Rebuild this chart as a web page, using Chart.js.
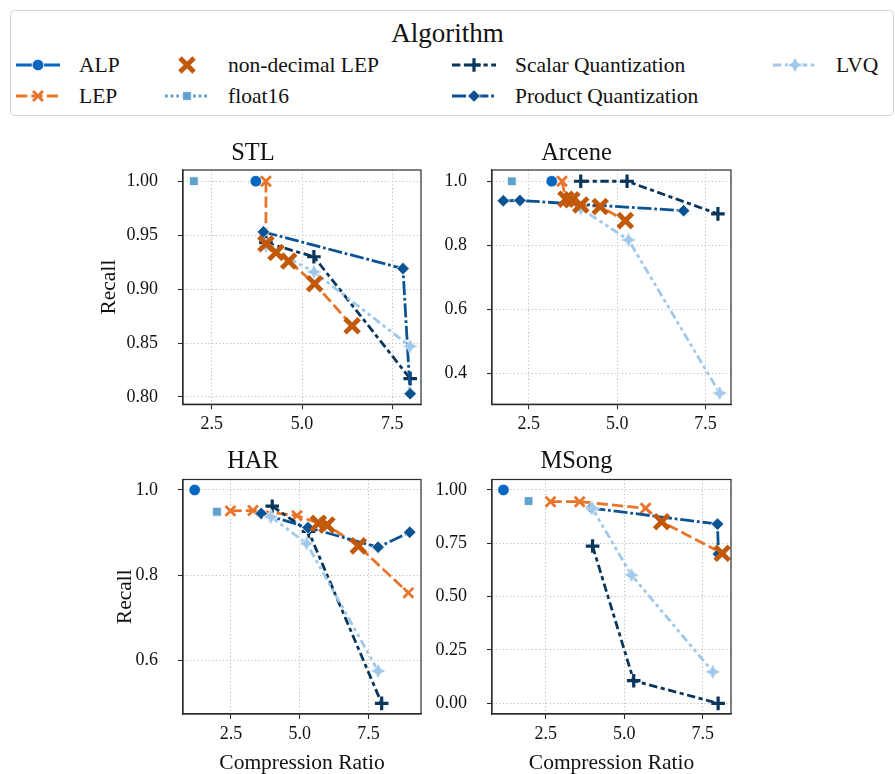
<!DOCTYPE html>
<html>
<head>
<meta charset="utf-8">
<script src="https://cdn.jsdelivr.net/npm/chart.js@4.4.0/dist/chart.umd.min.js"></script>
<style>
  body { margin: 0; background: #fff; width: 895px; height: 774px; overflow: hidden; position: relative;
         font-family: 'Liberation Serif', serif; color: #111; }
  canvas.panel { position: absolute; }
  #legend { position: absolute; left: 10px; top: 10px; width: 884px; height: 106px; box-sizing: border-box;
            border: 1px solid #d4d4d4; border-radius: 5px; }
  #legendTitle { position: absolute; left: 0; width: 895px; top: 17px; line-height: 32px; text-align: center; font-size: 27px; }
  .swatch { position: absolute; }
  .label { position: absolute; font-size: 21.5px; line-height: 26px; white-space: nowrap; }
</style>
</head>
<body>
<div id="legend"></div>
<div id="legendTitle">Algorithm</div>
<script>
const algorithms = ['ALP', 'LEP', 'non-decimal LEP', 'float16', 'Scalar Quantization', 'Product Quantization', 'LVQ'];

// [compression ratio, recall] per algorithm and dataset
const stlAlp = [[3.72, 1.0]];
const stlLep = [[4.0, 1.0], [4.0, 0.942], [4.28, 0.934], [4.63, 0.926], [5.35, 0.905], [6.39, 0.866]];
const stlNdLep = [[4.0, 0.942], [4.28, 0.934], [4.63, 0.926], [5.35, 0.905], [6.39, 0.866]];
const stlF16 = [[2.0, 1.0]];
const stlSq = [[4.0, 0.943], [5.33, 0.930], [8.0, 0.817]];
const stlPq = [[3.93, 0.953], [7.8, 0.919], [8.0, 0.803]];
const stlLvq = [[4.0, 0.940], [5.33, 0.916], [8.0, 0.847]];

const arcAlp = [[3.15, 1.0]];
const arcLep = [[3.44, 1.0], [3.55, 0.944], [3.72, 0.942], [3.97, 0.926], [4.52, 0.921], [5.23, 0.877]];
const arcNdLep = [[3.55, 0.944], [3.72, 0.942], [3.97, 0.926], [4.52, 0.921], [5.23, 0.877]];
const arcF16 = [[2.02, 1.0]];
const arcSq = [[3.97, 1.0], [5.28, 1.0], [7.85, 0.898]];
const arcPq = [[1.78, 0.939], [2.25, 0.940], [6.88, 0.908]];
const arcLvq = [[3.6, 0.940], [3.97, 0.915], [5.32, 0.817], [7.9, 0.338]];

const harAlp = [[1.18, 1.0]];
const harLep = [[2.48, 0.951], [3.3, 0.952], [4.9, 0.940], [5.68, 0.922], [5.99, 0.918], [7.13, 0.869], [8.95, 0.759]];
const harNdLep = [[5.68, 0.922], [5.99, 0.918], [7.13, 0.869]];
const harF16 = [[1.99, 0.949]];
const harSq = [[4.0, 0.962], [5.32, 0.903], [7.98, 0.500]];
const harPq = [[3.6, 0.945], [5.3, 0.912], [7.85, 0.866], [9.0, 0.901]];
const harLvq = [[3.95, 0.937], [5.25, 0.875], [7.85, 0.576]];

const msAlp = [[1.15, 1.0]];
const msLep = [[2.65, 0.945], [3.58, 0.945], [5.68, 0.914], [6.19, 0.851], [8.12, 0.703]];
const msNdLep = [[6.19, 0.851], [8.12, 0.703]];
const msF16 = [[1.95, 0.948]];
const msSq = [[3.99, 0.737], [5.3, 0.106], [7.99, 0.0]];
const msPq = [[3.95, 0.915], [7.97, 0.840], [8.0, 0.700]];
const msLvq = [[3.98, 0.914], [5.23, 0.601], [7.82, 0.148]];

const xTicks = [2.5, 5.0, 7.5];
const stlYTicks = [0.80, 0.85, 0.90, 0.95, 1.00];
const arcYTicks = [0.4, 0.6, 0.8, 1.0];
const harYTicks = [0.6, 0.8, 1.0];
const msYTicks = [0.00, 0.25, 0.50, 0.75, 1.00];

Chart.defaults.font.family = "'Liberation Serif', serif";
Chart.defaults.color = '#111';

// 4-point star used for LVQ
function starImage(r, color) {
  const c = document.createElement('canvas');
  const size = Math.ceil(2 * r + 2);
  c.width = c.height = size;
  const g = c.getContext('2d');
  const m = size / 2;
  g.beginPath();
  for (let i = 0; i < 8; i++) {
    const a = i * Math.PI / 4 - Math.PI / 2;
    const rr = i % 2 ? r * 0.45 : r;
    g.lineTo(m + rr * Math.cos(a), m + rr * Math.sin(a));
  }
  g.closePath();
  g.fillStyle = color;
  g.fill();
  g.strokeStyle = '#fff';
  g.lineWidth = 0.7;
  g.stroke();
  return c;
}

const lw = 2.8;
const styles = {
  'ALP': { color: '#0867c1', dash: [], point: 'circle', radius: 5.8, filled: true, order: 6 },
  'LEP': { color: '#e7762c', dash: [4 * lw, 1.5 * lw], point: 'crossRot', radius: 7, width: 2.8, order: 5 },
  'non-decimal LEP': { color: '#c2590a', line: false, point: 'crossRot', radius: 10, width: 4.8, order: 0 },
  'float16': { color: '#5fa1cd', dash: [lw, lw], point: 'rect', radius: 6.2, filled: true, order: 4 },
  'Scalar Quantization': { color: '#0a365c', dash: [3 * lw, 1.25 * lw, 1.5 * lw, 1.25 * lw], point: 'cross', radius: 6.8, width: 3.2, order: 3 },
  'Product Quantization': { color: '#0b5393', dash: [5 * lw, lw, lw, lw], point: 'rectRot', radius: 6.3, filled: true, order: 2 },
  'LVQ': { color: '#9fc8ea', dash: [3 * lw, 1.25 * lw, 1.25 * lw, 1.25 * lw, 1.25 * lw, 1.25 * lw], point: 'image', radius: 8, filled: true, order: 1 },
};
styles['LVQ'].image = starImage(styles['LVQ'].radius, styles['LVQ'].color);

const gridColor = '#bdbdbd';
const axisColor = '#2b2b2b';

// closes the box around the plot area
const framePlugin = {
  id: 'frame',
  afterDatasetsDraw(chart) {
    const a = chart.chartArea, ctx = chart.ctx;
    ctx.save();
    ctx.strokeStyle = axisColor;
    ctx.lineWidth = 1.2;
    ctx.setLineDash([]);
    ctx.strokeRect(a.left, a.top, a.right - a.left, a.bottom - a.top);
    ctx.restore();
  }
};

const panels = [
  { name: 'STL', series: [stlAlp, stlLep, stlNdLep, stlF16, stlSq, stlPq, stlLvq],
    xMin: 1.70, xMax: 8.30, yMin: 0.7933, yMax: 1.0104, yTicks: stlYTicks, yDec: 2,
    box: { left: 85, top: 130, width: 356, height: 305 }, plot: { left: 183, top: 170, right: 421, bottom: 405 },
    titleY: 153.3, recallX: 109, xTitle: false },
  { name: 'Arcene', series: [arcAlp, arcLep, arcNdLep, arcF16, arcSq, arcPq, arcLvq],
    xMin: 1.46, xMax: 8.22, yMin: 0.3035, yMax: 1.0352, yTicks: arcYTicks, yDec: 1,
    box: { left: 422, top: 130, width: 329, height: 305 }, plot: { left: 492, top: 170, right: 731, bottom: 405 },
    titleY: 153.3, recallX: null, xTitle: false },
  { name: 'HAR', series: [harAlp, harLep, harNdLep, harF16, harSq, harPq, harLvq],
    xMin: 0.755, xMax: 9.41, yMin: 0.475, yMax: 1.0246, yTicks: harYTicks, yDec: 1,
    box: { left: 85, top: 438, width: 356, height: 336 }, plot: { left: 183, top: 479.5, right: 421, bottom: 714 },
    titleY: 461.7, recallX: 125, xTitle: true },
  { name: 'MSong', series: [msAlp, msLep, msNdLep, msF16, msSq, msPq, msLvq],
    xMin: 0.785, xMax: 8.40, yMin: -0.050, yMax: 1.049, yTicks: msYTicks, yDec: 2,
    box: { left: 422, top: 438, width: 329, height: 336 }, plot: { left: 492, top: 479.5, right: 731, bottom: 714 },
    titleY: 461.7, recallX: null, xTitle: true },
];

function makeDataset(name, pts) {
  const s = styles[name];
  const filled = !!s.filled;
  return {
    label: name,
    data: pts.map(p => ({ x: p[0], y: p[1] })),
    showLine: s.line !== false,
    borderColor: s.color,
    borderWidth: lw,
    borderDash: s.dash || [],
    tension: 0,
    fill: false,
    pointStyle: s.point === 'image' ? s.image : s.point,
    pointRadius: s.radius,
    pointBackgroundColor: s.color,
    pointBorderColor: filled ? '#ffffff' : s.color,
    pointBorderWidth: filled ? 0.8 : s.width,
    order: s.order,
    clip: 12
  };
}

function makePanel(p) {
  const c = document.createElement('canvas');
  c.className = 'panel';
  c.width = p.box.width;
  c.height = p.box.height;
  c.style.left = p.box.left + 'px';
  c.style.top = p.box.top + 'px';
  document.body.appendChild(c);

  const titleLh = 24.5 * 1.2;
  const padTop = p.titleY - p.box.top - titleLh / 2;
  const padBottom = p.plot.top - p.box.top - padTop - titleLh;
  const labelLh = 21.5 * 1.2;

  new Chart(c, {
    type: 'line',
    data: { datasets: algorithms.map((a, i) => makeDataset(a, p.series[i])) },
    options: {
      responsive: false,
      animation: false,
      events: [],
      layout: { padding: { left: 0, top: 0, bottom: 0, right: p.box.left + p.box.width - p.plot.right } },
      plugins: {
        legend: { display: false },
        tooltip: { enabled: false },
        title: { display: true, text: p.name, color: '#111', font: { size: 24.5, lineHeight: 1.2, weight: 'normal' },
                 padding: { top: padTop, bottom: padBottom } }
      },
      scales: {
        x: {
          type: 'linear', min: p.xMin, max: p.xMax,
          afterBuildTicks: s => { s.ticks = xTicks.map(v => ({ value: v })); },
          afterFit: s => { s.height = p.box.top + p.box.height - p.plot.bottom; },
          ticks: { callback: v => v.toFixed(1), padding: 4.5, color: '#111', font: { size: 18 }, maxRotation: 0, autoSkip: false },
          grid: { color: gridColor, lineWidth: 1, tickColor: axisColor, tickLength: 5, tickWidth: 1.1 },
          border: { color: axisColor, width: 1.2, dash: [1.2, 2.4] },
          title: { display: p.xTitle, text: 'Compression Ratio', color: '#111', font: { size: 21.5, lineHeight: 1.0 }, padding: { top: 0, bottom: 0 } }
        },
        y: {
          type: 'linear', min: p.yMin, max: p.yMax,
          afterBuildTicks: s => { s.ticks = p.yTicks.map(v => ({ value: v })); },
          afterFit: s => { s.width = p.plot.left - p.box.left; },
          ticks: { callback: v => v.toFixed(p.yDec), padding: 20, color: '#111', font: { size: 18 }, autoSkip: false },
          grid: { color: gridColor, lineWidth: 1, tickColor: axisColor, tickLength: 5, tickWidth: 1.1 },
          border: { color: axisColor, width: 1.2, dash: [1.2, 2.4] },
          title: { display: p.recallX !== null, text: 'Recall', color: '#111', font: { size: 21.5, lineHeight: 1.2 },
                   padding: { top: p.recallX === null ? 0 : p.recallX - p.box.left - labelLh / 2, bottom: 0 } }
        }
      }
    },
    plugins: [framePlugin]
  });
}

panels.forEach(makePanel);

// legend swatches
function drawMarker(g, s, x, y) {
  g.save();
  g.setLineDash([]);
  g.fillStyle = s.color;
  g.strokeStyle = s.color;
  const r = s.radius;
  g.beginPath();
  if (s.point === 'image') {
    g.drawImage(s.image, x - s.image.width / 2, y - s.image.height / 2);
  } else if (s.point === 'cross' || s.point === 'crossRot') {
    const h = s.point === 'cross' ? r : r * Math.SQRT1_2;
    if (s.point === 'cross') {
      g.moveTo(x - h, y); g.lineTo(x + h, y); g.moveTo(x, y - h); g.lineTo(x, y + h);
    } else {
      g.moveTo(x - h, y - h); g.lineTo(x + h, y + h); g.moveTo(x + h, y - h); g.lineTo(x - h, y + h);
    }
    g.lineWidth = s.width;
    g.stroke();
  } else {
    if (s.point === 'circle') g.arc(x, y, r, 0, 2 * Math.PI);
    else if (s.point === 'rect') { const h = r * Math.SQRT1_2; g.rect(x - h, y - h, 2 * h, 2 * h); }
    else { g.moveTo(x, y - r); g.lineTo(x + r, y); g.lineTo(x, y + r); g.lineTo(x - r, y); g.closePath(); }
    g.fill();
    g.strokeStyle = '#fff';
    g.lineWidth = 0.8;
    g.stroke();
  }
  g.restore();
}

const legendCols = [16, 165, 452, 773];
const legendRows = [65, 96];
const handleLen = 44;
algorithms.forEach((name, i) => {
  const s = styles[name];
  const col = Math.floor(i / 2), row = i % 2;
  const x0 = legendCols[col], cy = legendRows[row];
  const cv = document.createElement('canvas');
  cv.className = 'swatch';
  cv.width = handleLen + 8;
  cv.height = 26;
  cv.style.left = (x0 - 4) + 'px';
  cv.style.top = (cy - 13) + 'px';
  document.body.appendChild(cv);
  const g = cv.getContext('2d');
  if (s.line !== false) {
    g.strokeStyle = s.color;
    g.lineWidth = lw;
    g.setLineDash(s.dash || []);
    g.beginPath();
    g.moveTo(4, 13);
    g.lineTo(4 + handleLen, 13);
    g.stroke();
  }
  drawMarker(g, s, 4 + handleLen / 2, 13);
  const t = document.createElement('div');
  t.className = 'label';
  t.textContent = name;
  t.style.left = (x0 + handleLen + 19) + 'px';
  t.style.top = (cy - 13) + 'px';
  document.body.appendChild(t);
});
</script>
</body>
</html>
